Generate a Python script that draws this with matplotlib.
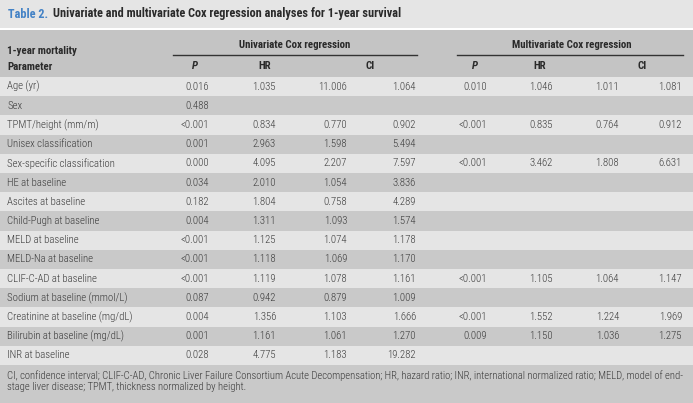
import matplotlib
matplotlib.use("Agg")
import matplotlib.pyplot as plt
from matplotlib import font_manager
from matplotlib.patches import Rectangle

# table content
params = ["Age (yr)", "Sex", "TPMT/height (mm/m)", "Unisex classification",
          "Sex-specific classification", "HE at baseline", "Ascites at baseline",
          "Child-Pugh at baseline", "MELD at baseline", "MELD-Na at baseline",
          "CLIF-C-AD at baseline", "Sodium at baseline (mmol/L)",
          "Creatinine at baseline (mg/dL)", "Bilirubin at baseline (mg/dL)",
          "INR at baseline"]
uni_p = ["0.016", "0.488", "<0.001", "0.001", "0.000", "0.034", "0.182", "0.004",
         "<0.001", "<0.001", "<0.001", "0.087", "0.004", "0.001", "0.028"]
uni_hr = ["1.035", "", "0.834", "2.963", "4.095", "2.010", "1.804", "1.311",
          "1.125", "1.118", "1.119", "0.942", "1.356", "1.161", "4.775"]
uni_lo = ["11.006", "", "0.770", "1.598", "2.207", "1.054", "0.758", "1.093",
          "1.074", "1.069", "1.078", "0.879", "1.103", "1.061", "1.183"]
uni_hi = ["1.064", "", "0.902", "5.494", "7.597", "3.836", "4.289", "1.574",
          "1.178", "1.170", "1.161", "1.009", "1.666", "1.270", "19.282"]
multi_p = ["0.010", "", "<0.001", "", "<0.001", "", "", "", "", "",
           "<0.001", "", "<0.001", "0.009", ""]
multi_hr = ["1.046", "", "0.835", "", "3.462", "", "", "", "", "",
            "1.105", "", "1.552", "1.150", ""]
multi_lo = ["1.011", "", "0.764", "", "1.808", "", "", "", "", "",
            "1.064", "", "1.224", "1.036", ""]
multi_hi = ["1.081", "", "0.912", "", "6.631", "", "", "", "", "",
            "1.147", "", "1.969", "1.275", ""]

title_num = "Table 2."
title_txt = "Univariate and multivariate Cox regression analyses for 1-year survival"
footnote = ["CI, confidence interval; CLIF-C-AD, Chronic Liver Failure Consortium Acute "
            "Decompensation; HR, hazard ratio; INR, international normalized ratio; MELD, model of end-",
            "stage liver disease; TPMT, thickness normalized by height."]

W, H = 693, 403
avail = {f.name for f in font_manager.fontManager.ttflist}
FONT = [f for f in ["Roboto Condensed", "Liberation Sans Narrow", "Liberation Sans"]
        if f in avail] + ["DejaVu Sans"]
LIGHT = "#e5e5e5"
DARK = "#c9c9c9"
HEAD = "#c4c4c4"
TXT = "#3a3a3a"
BOLD = "#2a2a2a"

fig = plt.figure(figsize=(W / 100, H / 100), dpi=100)
ax = fig.add_axes([0, 0, 1, 1])
ax.set_xlim(0, W)
ax.set_ylim(H, 0)
ax.axis("off")
renderer = fig.canvas.get_renderer()

def fit_size(s, width_px, weight="normal"):
    # font size that makes the string span the width measured on the reference
    t = fig.text(0, 0, s, fontsize=10, fontweight=weight, family=FONT)
    w = t.get_window_extent(renderer).width
    t.remove()
    return 10 * width_px / w

SZ = fit_size("Sex-specific classification", 109, "light")
SZ_HEAD = fit_size("Univariate Cox regression", 113, "bold")
SZ_TITLE = fit_size(title_num + "  " + title_txt, 395, "bold")
SZ_FOOT = fit_size(footnote[0], 680, "light")

def band(y0, y1, color):
    ax.add_patch(Rectangle((0, y0), W, y1 - y0, color=color, lw=0))

def txt(x, y, s, ha="left", size=None, weight="light", color=TXT, style="normal"):
    return ax.text(x, y, s, ha=ha, va="center", fontsize=size or SZ, fontweight=weight,
                   color=color, family=FONT, style=style)

# title band
band(0, 28, LIGHT)
band(28, 30, "white")
t = txt(8, 14, title_num, size=SZ_TITLE, weight="bold", color="#4382c6")
bb = t.get_window_extent(renderer).transformed(ax.transData.inverted())
txt(bb.x1 + 5, 14, title_txt, size=SZ_TITLE, weight="bold", color=BOLD)

# header
head_top, head_bot = 30, 77
band(head_top, head_bot, HEAD)
txt(7, 51, "1-year mortality", size=SZ_HEAD, weight="bold", color=BOLD)
txt(7, 66.5, "Parameter", size=SZ_HEAD, weight="bold", color=BOLD)
txt(295, 45, "Univariate Cox regression", ha="center", size=SZ_HEAD, weight="bold", color=BOLD)
txt(572, 45, "Multivariate Cox regression", ha="center", size=SZ_HEAD, weight="bold", color=BOLD)
ax.plot([173, 417], [55, 55], color="#333333", lw=1)
ax.plot([457, 683], [55, 55], color="#333333", lw=1)
for x, s, st in [(195, "P", "italic"), (265, "HR", "normal"), (370, "CI", "normal"),
                 (475, "P", "italic"), (540, "HR", "normal"), (642, "CI", "normal")]:
    txt(x, 66, s, ha="center", size=SZ_HEAD, weight="bold", color=BOLD, style=st)

# body rows
row_h = 19.2
cols = [(209, uni_p), (276, uni_hr), (347, uni_lo), (416, uni_hi),
        (487, multi_p), (553, multi_hr), (619, multi_lo), (682, multi_hi)]
for i, name in enumerate(params):
    y0 = head_bot + i * row_h
    band(y0, y0 + row_h, LIGHT if i % 2 == 0 else DARK)
    yc = y0 + row_h / 2
    txt(7, yc, name)
    for x, vals in cols:
        if vals[i]:
            txt(x, yc, vals[i], ha="right")

# footnote
foot_top = head_bot + len(params) * row_h
band(foot_top, H, DARK)
for k, line in enumerate(footnote):
    txt(7, foot_top + 11 + k * 11.5, line, size=SZ_FOOT)

fig.savefig("out.png", dpi=100)
